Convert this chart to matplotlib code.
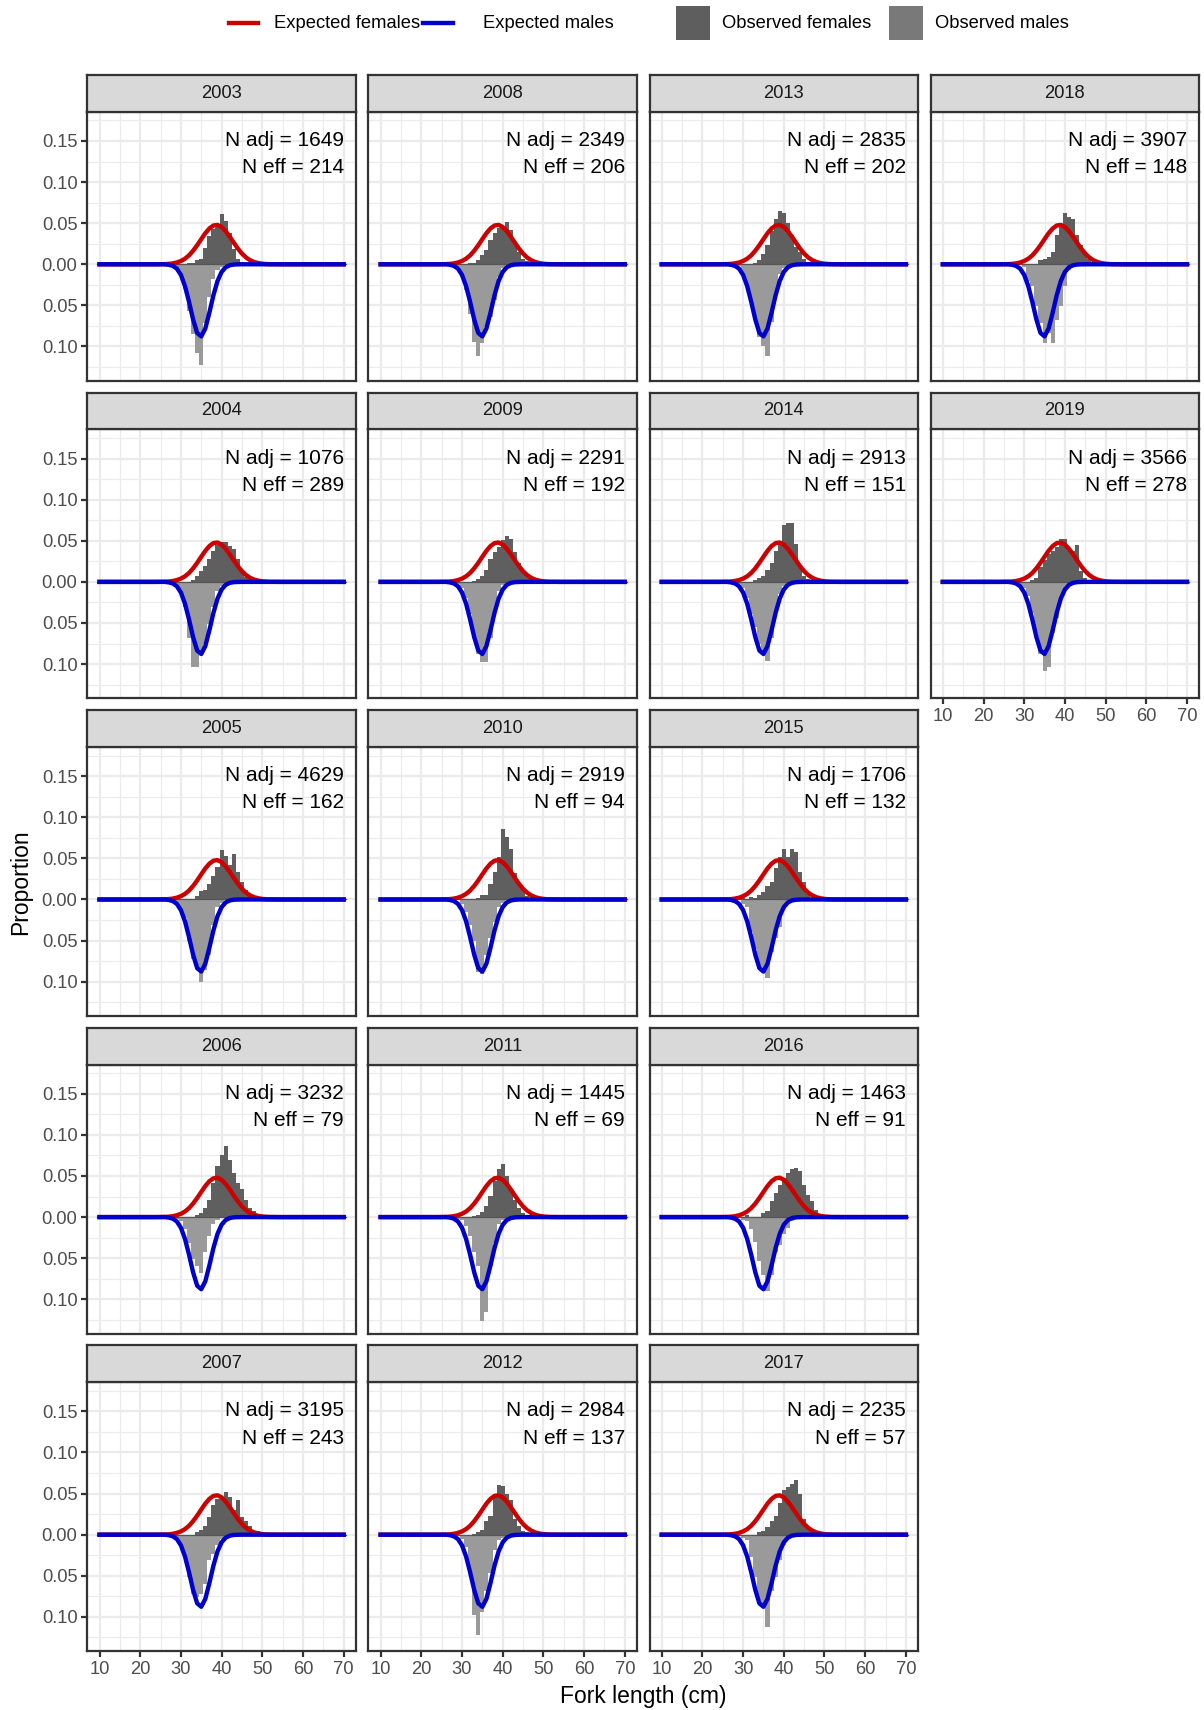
import matplotlib
matplotlib.use("Agg")
import matplotlib.pyplot as plt
from matplotlib.lines import Line2D
from matplotlib.patches import Rectangle

plt.rcParams["font.family"] = ["Liberation Sans", "DejaVu Sans"]

# ---------------------------------------------------------------- data
years = [2003, 2004, 2005, 2006, 2007,
         2008, 2009, 2010, 2011, 2012,
         2013, 2014, 2015, 2016, 2017,
         2018, 2019]
n_adj = [1649, 1076, 4629, 3232, 3195,
         2349, 2291, 2919, 1445, 2984,
         2835, 2913, 1706, 1463, 2235,
         3907, 3566]
n_eff = [214, 289, 162, 79, 243,
         206, 192, 94, 69, 137,
         202, 151, 132, 91, 57,
         148, 278]

# observed proportions by 1-cm fork-length bin (26 ... 50 cm)
bins = list(range(26, 51))

fem_2003 = [0, 0, 0, 0, 0, 0, .001, .002, .005, .007, .020, .034, .043, .048, .061, .053, .038, .018, .006, .003, .001, 0, 0, 0, 0]
mal_2003 = [0, 0, .001, .004, .014, .030, .057, .085, .108, .123, .072, .040, .018, .007, .003, 0, 0, 0, 0, 0, 0, 0, 0, 0, 0]
fem_2004 = [0, 0, 0, 0, 0, 0, 0, .002, .007, .013, .019, .028, .038, .045, .049, .048, .044, .040, .028, .015, .006, .003, .001, 0, 0]
mal_2004 = [0, 0, .002, .005, .013, .031, .068, .103, .103, .088, .076, .051, .031, .011, .005, 0, 0, 0, 0, 0, 0, 0, 0, 0, 0]
fem_2005 = [0, 0, 0, 0, 0, 0, 0, 0, .004, .010, .011, .019, .028, .040, .060, .053, .042, .055, .034, .021, .011, .005, .002, 0, 0]
mal_2005 = [0, 0, 0, .005, .013, .023, .051, .072, .082, .100, .086, .068, .031, .009, .004, 0, 0, 0, 0, 0, 0, 0, 0, 0, 0]
fem_2006 = [0, 0, 0, 0, 0, 0, 0, 0, .002, .005, .011, .021, .042, .062, .076, .086, .070, .054, .042, .034, .021, .011, .007, .004, .002]
mal_2006 = [0, 0, 0, .002, .005, .015, .031, .051, .060, .068, .043, .023, .009, .004, 0, 0, 0, 0, 0, 0, 0, 0, 0, 0, 0]
fem_2007 = [0, 0, 0, 0, 0, 0, 0, 0, .003, .006, .011, .021, .036, .044, .046, .052, .046, .030, .042, .021, .017, .010, .005, .004, .003]
mal_2007 = [0, 0, 0, .004, .011, .027, .051, .072, .076, .072, .060, .031, .023, .013, .005, 0, 0, 0, 0, 0, 0, 0, 0, 0, 0]
fem_2008 = [0, 0, 0, 0, 0, 0, .001, .002, .005, .011, .017, .030, .038, .044, .047, .051, .042, .027, .015, .007, .004, .003, .002, .002, .001]
mal_2008 = [0, 0, 0, .003, .015, .031, .060, .094, .112, .096, .076, .064, .043, .015, .005, 0, 0, 0, 0, 0, 0, 0, 0, 0, 0]
fem_2009 = [0, 0, 0, 0, 0, 0, 0, .001, .003, .007, .015, .028, .036, .042, .051, .056, .052, .036, .023, .015, .007, .004, .002, 0, 0]
mal_2009 = [0, 0, 0, .002, .007, .019, .039, .068, .088, .098, .098, .068, .035, .011, .004, 0, 0, 0, 0, 0, 0, 0, 0, 0, 0]
fem_2010 = [0, 0, 0, 0, 0, 0, 0, 0, .002, .005, .006, .019, .034, .052, .086, .076, .062, .032, .019, .011, .004, .002, 0, 0, 0]
mal_2010 = [0, 0, 0, 0, .005, .015, .031, .051, .088, .091, .068, .047, .027, .009, .004, 0, 0, 0, 0, 0, 0, 0, 0, 0, 0]
fem_2011 = [0, 0, 0, 0, 0, 0, 0, .001, .003, .006, .013, .026, .044, .058, .064, .050, .034, .021, .011, .005, .002, 0, 0, 0, 0]
mal_2011 = [0, 0, 0, .002, .004, .011, .023, .043, .060, .126, .116, .060, .031, .009, .004, 0, 0, 0, 0, 0, 0, 0, 0, 0, 0]
fem_2012 = [0, 0, 0, 0, 0, 0, 0, .001, .003, .006, .017, .023, .050, .060, .059, .050, .042, .019, .011, .005, .003, 0, 0, 0, 0]
mal_2012 = [0, 0, 0, .002, .005, .015, .043, .098, .122, .094, .068, .047, .019, .007, .004, 0, 0, 0, 0, 0, 0, 0, 0, 0, 0]
fem_2013 = [0, 0, 0, 0, 0, 0, 0, .002, .005, .013, .023, .040, .055, .065, .062, .050, .036, .021, .015, .007, .003, 0, 0, 0, 0]
mal_2013 = [0, 0, 0, .002, .012, .025, .045, .065, .088, .100, .112, .070, .035, .012, .005, .002, 0, 0, 0, 0, 0, 0, 0, 0, 0]
fem_2014 = [0, 0, 0, 0, 0, 0, 0, .002, .005, .007, .015, .023, .038, .050, .069, .072, .072, .046, .021, .007, .003, 0, 0, 0, 0]
mal_2014 = [0, 0, 0, .002, .007, .019, .039, .055, .076, .088, .096, .068, .035, .015, .005, 0, 0, 0, 0, 0, 0, 0, 0, 0, 0]
fem_2015 = [0, 0, 0, 0, .002, 0, .003, .002, .006, .009, .017, .021, .038, .052, .061, .052, .062, .058, .034, .021, .007, .002, 0, 0, 0]
mal_2015 = [0, 0, 0, 0, .005, .009, .039, .060, .080, .088, .096, .064, .047, .033, .011, .004, 0, 0, 0, 0, 0, 0, 0, 0, 0]
fem_2016 = [0, 0, 0, 0, 0, .002, 0, 0, 0, .005, .007, .019, .029, .039, .047, .054, .058, .060, .056, .039, .027, .019, .009, .004, 0]
mal_2016 = [0, 0, 0, 0, .003, .005, .015, .030, .054, .070, .090, .070, .042, .034, .021, .013, .005, 0, 0, 0, 0, 0, 0, 0, 0]
fem_2017 = [0, 0, 0, 0, 0, 0, 0, 0, .003, .005, .009, .017, .023, .038, .054, .058, .062, .066, .050, .019, .007, .003, 0, 0, 0]
mal_2017 = [0, 0, 0, 0, .004, .007, .027, .051, .080, .088, .112, .068, .051, .031, .013, .005, 0, 0, 0, 0, 0, 0, 0, 0, 0]
fem_2018 = [0, 0, 0, 0, 0, 0, 0, 0, .005, .006, .009, .015, .036, .045, .062, .058, .055, .036, .023, .015, .007, .003, 0, 0, 0]
mal_2018 = [0, 0, 0, 0, .003, .020, .027, .051, .072, .096, .084, .096, .068, .051, .027, .007, 0, 0, 0, 0, 0, 0, 0, 0, 0]
fem_2019 = [0, 0, .001, 0, 0, 0, .002, .005, .018, .027, .034, .038, .042, .052, .052, .040, .038, .045, .013, .005, .002, 0, 0, 0, 0]
mal_2019 = [0, 0, 0, .005, .007, .017, .038, .062, .088, .109, .103, .062, .044, .021, .009, .003, 0, 0, 0, 0, 0, 0, 0, 0, 0]

observed = {
    2003: (fem_2003, mal_2003), 2004: (fem_2004, mal_2004), 2005: (fem_2005, mal_2005),
    2006: (fem_2006, mal_2006), 2007: (fem_2007, mal_2007), 2008: (fem_2008, mal_2008),
    2009: (fem_2009, mal_2009), 2010: (fem_2010, mal_2010), 2011: (fem_2011, mal_2011),
    2012: (fem_2012, mal_2012), 2013: (fem_2013, mal_2013), 2014: (fem_2014, mal_2014),
    2015: (fem_2015, mal_2015), 2016: (fem_2016, mal_2016), 2017: (fem_2017, mal_2017),
    2018: (fem_2018, mal_2018), 2019: (fem_2019, mal_2019),
}

# expected proportions from the model, 10 ... 70 cm
exp_len = list(range(10, 71))
exp_female = ([0.0] * 15 +
              [.0001, .0002, .0005, .0011, .0022, .0040, .0068, .0109, .0165, .0232,
               .0306, .0378, .0436, .0472, .0479, .0454, .0403, .0336, .0262, .0191,
               .0130, .0083, .0050, .0028, .0015, .0007, .0003, .0001, .0001] +
              [0.0] * 17)
exp_male = ([0.0] * 17 +
            [.0006, .0019, .0053, .0129, .0265, .0458, .0672, .0835, .0877, .0781,
             .0588, .0375, .0203, .0093, .0036, .0012, .0003, .0001] +
            [0.0] * 26)

x_ticks = [10, 20, 30, 40, 50, 60, 70]
y_ticks = [-0.10, -0.05, 0.00, 0.05, 0.10, 0.15]
y_tick_labels = ["0.10", "0.05", "0.00", "0.05", "0.10", "0.15"]

# ---------------------------------------------------------------- style
W, H, DPI = 1204, 1710, 150
FEM_BAR = "#5f5f5f"
MAL_BAR = "#9a9a9a"
FEM_KEY = "#5e5e5e"
MAL_KEY = "#797979"
RED = "#cd0000"
BLUE = "#0000cd"
GRID = "#ebebeb"
FRAME = "#333333"
TICK_TXT = "#4d4d4d"

COL_X0, COL_PITCH, PANEL_W = 87.3, 281.1, 268.6
ROW_TOP, ROW_PITCH, STRIP_H, PANEL_H = 75.0, 317.6, 36.7, 269.0


def fx(px):
    return px / W


def fy(py):
    return 1 - py / H


fig = plt.figure(figsize=(W / DPI, H / DPI), dpi=DPI)
fig.patch.set_facecolor("white")

n_per_col = 5
for i, yr in enumerate(years):
    col, row = divmod(i, n_per_col)
    x0 = COL_X0 + col * COL_PITCH
    strip_top = ROW_TOP + row * ROW_PITCH
    panel_top = strip_top + STRIP_H
    panel_bot = panel_top + PANEL_H
    bottom_of_col = (row == n_per_col - 1) or (i == len(years) - 1)

    ax = fig.add_axes([fx(x0), fy(panel_bot), PANEL_W / W, PANEL_H / H])
    ax.set_xlim(7, 73)
    ax.set_ylim(-0.1416, 0.1856)
    ax.set_xticks(x_ticks)
    ax.set_xticks([15, 25, 35, 45, 55, 65], minor=True)
    ax.set_yticks(y_ticks)
    ax.set_yticks([-0.125, -0.075, -0.025, 0.025, 0.075, 0.125, 0.175], minor=True)
    ax.set_yticklabels(y_tick_labels)
    ax.set_xticklabels([str(t) for t in x_ticks])
    ax.set_axisbelow(True)
    ax.grid(which="major", color=GRID, lw=1.07)
    ax.grid(which="minor", color=GRID, lw=0.55)
    ax.tick_params(which="minor", length=0)
    ax.tick_params(which="major", length=2.75, width=1.07, color=FRAME,
                   labelsize=8.8, labelcolor=TICK_TXT, pad=2.0)
    if col != 0:
        ax.tick_params(axis="y", left=False, labelleft=False)
    if not bottom_of_col:
        ax.tick_params(axis="x", bottom=False, labelbottom=False)
    for sp in ax.spines.values():
        sp.set_color(FRAME)
        sp.set_linewidth(1.07)
        sp.set_zorder(10)

    fem, mal = observed[yr]
    ax.bar(bins, fem, width=1.0, color=FEM_BAR, lw=0, zorder=2)
    ax.bar(bins, [-v for v in mal], width=1.0, color=MAL_BAR, lw=0, zorder=2)
    ax.plot([9.5, 70.5], [0, 0], color="#555555", lw=0.6, zorder=2.5)
    ax.plot(exp_len, exp_female, color=RED, lw=2.1, zorder=3,
            solid_joinstyle="round")
    ax.plot(exp_len, [-v for v in exp_male], color=BLUE, lw=2.1, zorder=4,
            solid_joinstyle="round")

    ax.text(70, 0.1439, f"N adj = {n_adj[i]}", ha="right", va="baseline",
            fontsize=10, color="black", zorder=6)
    ax.text(70, 0.1107, f"N eff = {n_eff[i]}", ha="right", va="baseline",
            fontsize=10, color="black", zorder=6)

    sax = fig.add_axes([fx(x0), fy(panel_top), PANEL_W / W, STRIP_H / H])
    sax.set_facecolor("#d9d9d9")
    sax.set_xticks([])
    sax.set_yticks([])
    for sp in sax.spines.values():
        sp.set_color(FRAME)
        sp.set_linewidth(1.07)
    sax.text(0.5, 0.5, str(yr), ha="center", va="center", fontsize=8.8,
             color="#1a1a1a", transform=sax.transAxes)

# axis titles
fig.text(fx(643), fy(1696), "Fork length (cm)", ha="center", va="center",
         fontsize=11, color="black")
fig.text(fx(21), fy(882), "Proportion", ha="center", va="center",
         rotation=90, fontsize=11, color="black")

# legend along the top
leg_y = 23
for (xa, xb), colr in [((229, 258), RED), ((423, 453), BLUE)]:
    fig.add_artist(Line2D([fx(xa), fx(xb)], [fy(leg_y), fy(leg_y)], color=colr,
                          lw=2.1, transform=fig.transFigure))
for (xa, xb), colr in [((676, 710), FEM_KEY), ((889, 923), MAL_KEY)]:
    fig.add_artist(Rectangle((fx(xa), fy(39.5)), (xb - xa) / W, 34 / H,
                             facecolor=colr, edgecolor="none",
                             transform=fig.transFigure))
for xt, label in [(274, "Expected females"), (483, "Expected males"),
                  (722, "Observed females"), (935, "Observed males")]:
    fig.text(fx(xt), fy(leg_y), label, ha="left", va="center", fontsize=8.8,
             color="black")

fig.savefig("out.png", dpi=DPI, facecolor="white")
